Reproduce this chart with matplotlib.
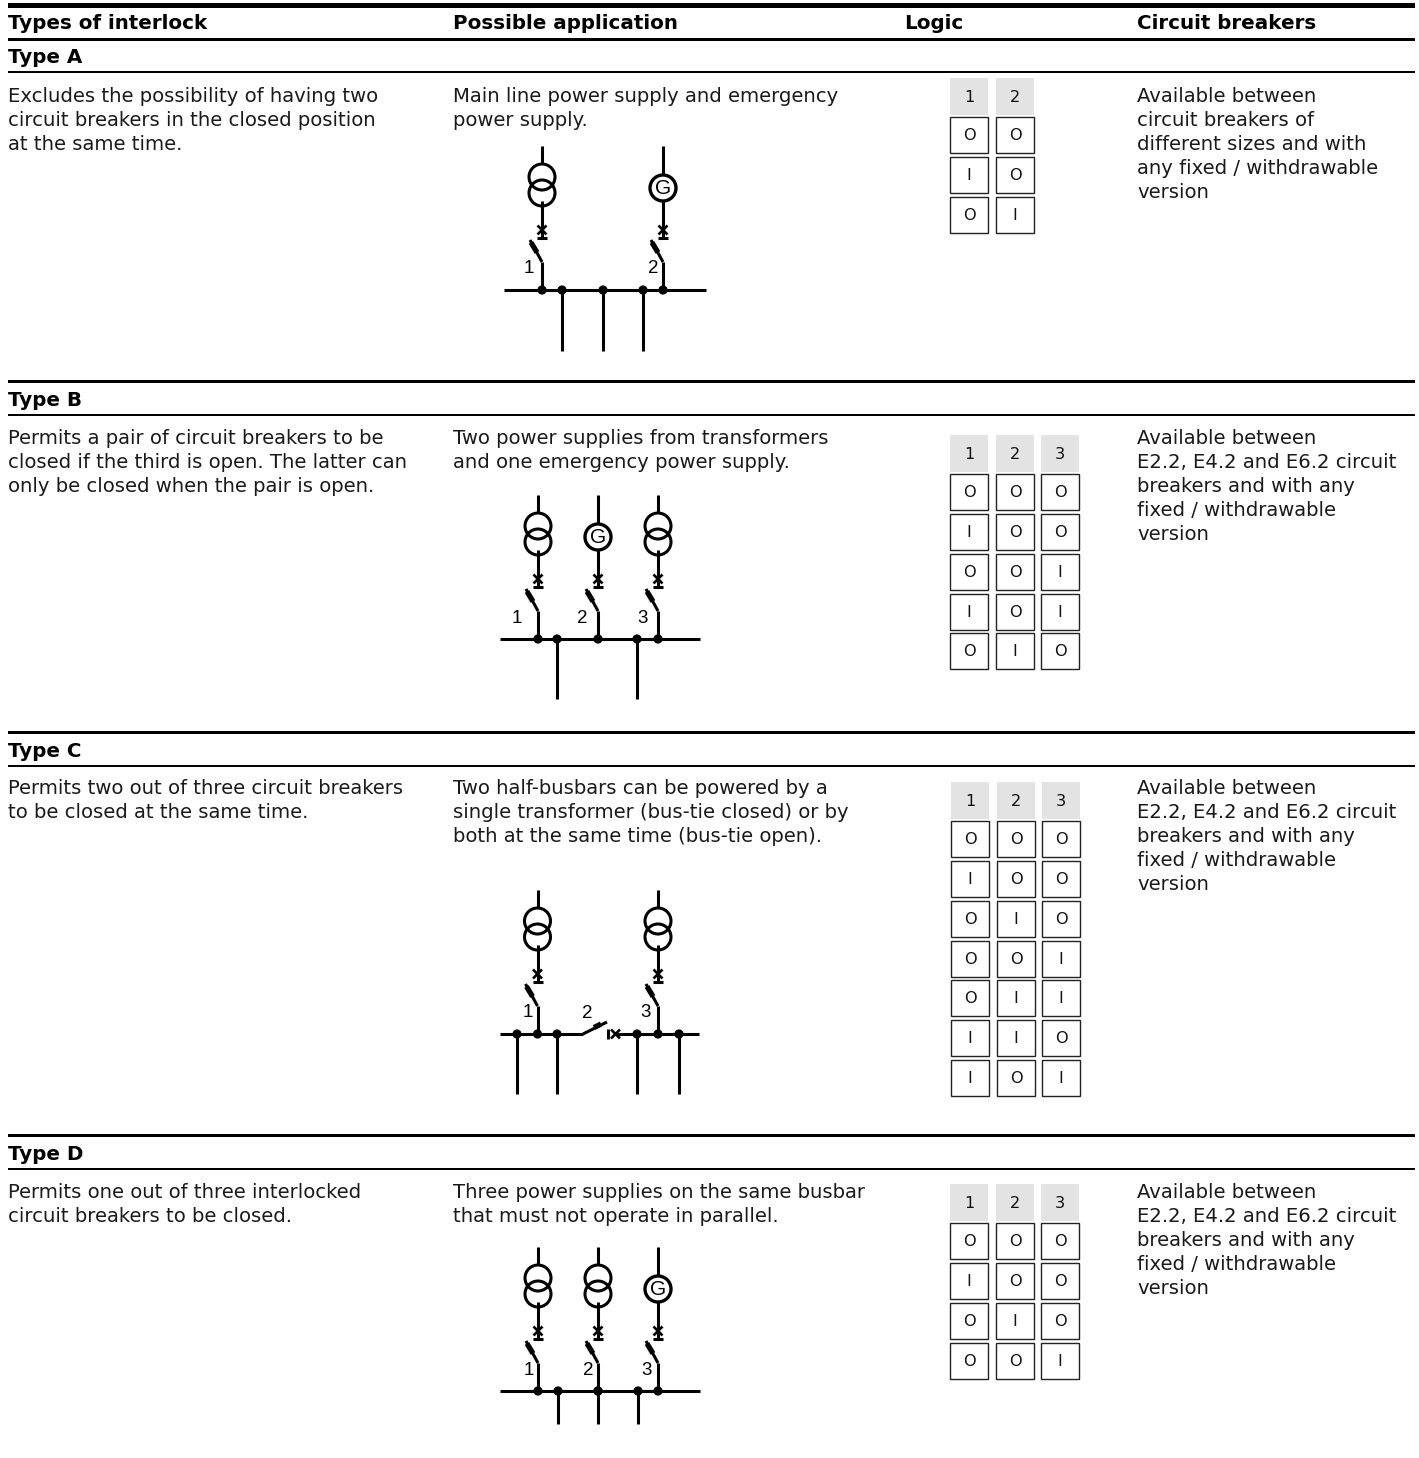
import matplotlib
matplotlib.use('Agg')
import matplotlib.pyplot as plt
from matplotlib.patches import Circle, Rectangle

W, H = 1419, 1458
FONT = 'DejaVu Sans'
SYM_FONT = 'Liberation Sans'

# ---- content ----
col_titles = ['Types of interlock', 'Possible application', 'Logic', 'Circuit breakers']
type_names = ['Type A', 'Type B', 'Type C', 'Type D']

interlock_text = [
	['Excludes the possibility of having two', 'circuit breakers in the closed position', 'at the same time.'],
	['Permits a pair of circuit breakers to be', 'closed if the third is open. The latter can', 'only be closed when the pair is open.'],
	['Permits two out of three circuit breakers', 'to be closed at the same time.'],
	['Permits one out of three interlocked', 'circuit breakers to be closed.'],
]
application_text = [
	['Main line power supply and emergency', 'power supply.'],
	['Two power supplies from transformers', 'and one emergency power supply.'],
	['Two half-busbars can be powered by a', 'single transformer (bus-tie closed) or by', 'both at the same time (bus-tie open).'],
	['Three power supplies on the same busbar', 'that must not operate in parallel.'],
]
breakers_text = [
	['Available between', 'circuit breakers of', 'different sizes and with', 'any fixed / withdrawable', 'version'],
	['Available between', 'E2.2, E4.2 and E6.2 circuit', 'breakers and with any', 'fixed / withdrawable', 'version'],
	['Available between', 'E2.2, E4.2 and E6.2 circuit', 'breakers and with any', 'fixed / withdrawable', 'version'],
	['Available between', 'E2.2, E4.2 and E6.2 circuit', 'breakers and with any', 'fixed / withdrawable', 'version'],
]

logic_heads = [['1', '2'], ['1', '2', '3'], ['1', '2', '3'], ['1', '2', '3']]
logic_rows = [
	['OO', 'IO', 'OI'],
	['OOO', 'IOO', 'OOI', 'IOI', 'OIO'],
	['OOO', 'IOO', 'OIO', 'OOI', 'OII', 'IIO', 'IOI'],
	['OOO', 'IOO', 'OIO', 'OOI'],
]

# source kind of each incoming unit, T transformer, G generator
unit_kinds = [['T', 'G'], ['T', 'G', 'T'], ['T', 'T'], ['T', 'T', 'G']]
unit_labels = [['1', '2'], ['1', '2', '3'], ['1', '3'], ['1', '2', '3']]

# ---- layout, in pixels of the picture ----
col_x = [8, 453, 904, 1137]
rule_tops = [None, 381, 732, 1135]
rule_bottoms = [72, 415, 766, 1169]
text_tops = [102, 444, 794, 1198]
line_step = 24

table_x = [[950, 996], [950, 996, 1041], [951, 997, 1042], [950, 996, 1041]]
table_y = [78, 435, 782, 1184]

bus_y = [290, 639, 1034, 1391]
bus_x = [(504, 706), (500, 700), (500, 699), (500, 700)]
unit_x = [[542, 663], [538, 598, 658], [537.5, 658], [538, 598, 658]]
feeder_x = [[562, 603, 643], [557, 637], [517, 557, 637, 679], [558, 598, 638]]
feeder_end = [351, 699, 1094, 1424]
label_x = [[529, 653], [517, 582, 643], [528, 646], [529, 588, 647]]
label_up = [17, 16, 17, 16]

TEXT_SIZE = 14.1
HEAD_SIZE = 14.35
CELL_SIZE = 11.6
LW = 2.2

fig = plt.figure(figsize=(W/100, H/100), dpi=100)
ax = fig.add_axes([0, 0, 1, 1])
ax.set_xlim(0, W)
ax.set_ylim(H, 0)
ax.axis('off')

def rule(y, h):
	ax.add_patch(Rectangle((8, y-h/2), 1407, h, fc='black', ec='none'))

def seg(xs, ys, lw=LW):
	ax.plot(xs, ys, color='black', lw=lw, solid_capstyle='butt', zorder=2)

def dot(x, y):
	ax.add_patch(Circle((x, y), 4.6, fc='black', ec='none', zorder=3))

def ring(x, y):
	ax.add_patch(Circle((x, y), 13, fc='none', ec='black', lw=LW, zorder=2))

def breaker_mark(x, y):
	# little x with a bar under it
	seg([x-4.5, x+4.5], [y-4.5, y+4.5], 1.9)
	seg([x-4.5, x+4.5], [y+4.5, y-4.5], 1.9)
	seg([x-5, x+5], [y+7.5, y+7.5], 2.2)

def unit(x, bus, kind):
	if kind == 'T':
		seg([x, x], [bus-144, bus-126])
		ring(x, bus-113)
		ring(x, bus-97)
	else:
		seg([x, x], [bus-144, bus-115])
		ax.add_patch(Circle((x, bus-102), 13, fc='white', ec='black', lw=LW+0.2, zorder=2))
		ax.text(x, bus-96, 'G', family=SYM_FONT, fontsize=15, ha='center', va='baseline', zorder=4)
	seg([x, x], [bus-89, bus-53])
	breaker_mark(x, bus-60)
	# switch blade
	seg([x-12, x], [bus-50, bus-28])
	seg([x-11, x-5], [bus-47.5, bus-37.5], 3.8)
	seg([x, x], [bus-28, bus])
	dot(x, bus)

def bus_tie(bus):
	# open bus-tie of type C, between the two half busbars
	seg([500, 583], [bus, bus])
	seg([583, 607], [bus, bus-12])
	seg([594, 601], [bus-6.5, bus-10], 3.8)
	seg([608, 608], [bus-5, bus+5], 2.2)
	seg([611, 620], [bus-4.5, bus+4.5], 1.9)
	seg([611, 620], [bus+4.5, bus-4.5], 1.9)
	seg([615, 699], [bus, bus])
	ax.text(587, bus-16, '2', family=SYM_FONT, fontsize=13.5, ha='center', va='baseline')

def logic_table(xs, top, heads, rows):
	for x, head in zip(xs, heads):
		ax.add_patch(Rectangle((x, top), 38, 37, fc='#e3e3e3', ec='none'))
		ax.text(x+19, top+24, head, family=FONT, fontsize=CELL_SIZE, ha='center', va='baseline', color='#111111')
	for r, row in enumerate(rows):
		y = top + 39 + r*39.85
		for x, val in zip(xs, row):
			ax.add_patch(Rectangle((x, y), 38, 36, fc='white', ec='#222222', lw=1.0))
			ax.text(x+19, y+23, val, family=FONT, fontsize=CELL_SIZE, ha='center', va='baseline', color='#111111')

def para(x, top, lines):
	for i, line in enumerate(lines):
		ax.text(x, top+i*line_step, line, family=FONT, fontsize=TEXT_SIZE, ha='left', va='baseline', color='#1a1a1a')

# header
rule(5.5, 5.5)
rule(39, 3)
for x, title in zip(col_x, col_titles):
	ax.text(x, 28.5, title, family=FONT, fontsize=HEAD_SIZE, fontweight='bold', ha='left', va='baseline')

for t in range(4):
	if rule_tops[t] is not None:
		rule(rule_tops[t], 3)
	rule(rule_bottoms[t], 2.8)
	ax.text(8, rule_bottoms[t]-9, type_names[t], family=FONT, fontsize=HEAD_SIZE, fontweight='bold', ha='left', va='baseline')
	para(col_x[0], text_tops[t], interlock_text[t])
	para(col_x[1], text_tops[t], application_text[t])
	para(col_x[3], text_tops[t], breakers_text[t])
	logic_table(table_x[t], table_y[t], logic_heads[t], logic_rows[t])

	bus = bus_y[t]
	if t == 2:
		bus_tie(bus)
	else:
		seg(bus_x[t], [bus, bus])
	for x, kind in zip(unit_x[t], unit_kinds[t]):
		unit(x, bus, kind)
	for x in feeder_x[t]:
		seg([x, x], [bus, feeder_end[t]])
		dot(x, bus)
	for x, lab in zip(label_x[t], unit_labels[t]):
		ax.text(x, bus-label_up[t], lab, family=SYM_FONT, fontsize=13.5, ha='center', va='baseline')

fig.savefig('out.png', dpi=100)
